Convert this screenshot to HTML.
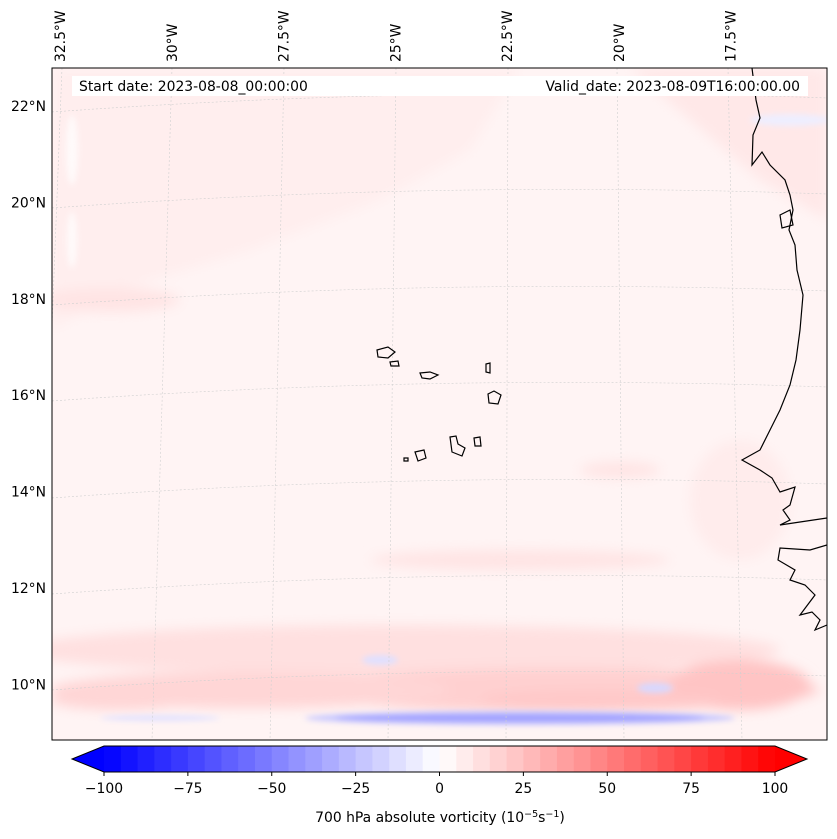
<!DOCTYPE html>
<html><head><meta charset="utf-8"><style>
html,body{margin:0;padding:0;background:#fff;}
svg{display:block;font-family:"DejaVu Sans","Liberation Sans",sans-serif;}
</style></head><body>
<svg id="fig" width="837" height="839" viewBox="0 0 837 839">
<defs>
<clipPath id="mapclip"><rect x="52" y="68" width="775" height="672"/></clipPath>
<filter id="blur6"><feGaussianBlur stdDeviation="6"/></filter>
<filter id="blur3"><feGaussianBlur stdDeviation="3"/></filter>
</defs>
<g id="map">
<rect x="52" y="68" width="775" height="672" fill="#fff4f4"/>
<g clip-path="url(#mapclip)">
<g filter="url(#blur6)" fill="#ffe4e4">
<path d="M52 68 L520 68 L470 150 L380 200 L250 250 L120 290 L52 330 Z" fill="#ffeeee"/>
<path d="M630 68 L827 68 L827 220 L760 180 Z" fill="#ffe8e8"/>
<ellipse cx="110" cy="300" rx="70" ry="12"/>
<ellipse cx="520" cy="560" rx="150" ry="10"/>
<ellipse cx="620" cy="470" rx="40" ry="8"/>
<ellipse cx="400" cy="650" rx="380" ry="25" fill="#ffe0e0"/>
<ellipse cx="560" cy="690" rx="260" ry="22" fill="#ffd0d0"/>
<ellipse cx="250" cy="690" rx="200" ry="18" fill="#ffd6d6"/>
<ellipse cx="740" cy="685" rx="70" ry="25" fill="#ffc4c4"/>
<ellipse cx="600" cy="700" rx="120" ry="10" fill="#ffc8c8"/>
<ellipse cx="120" cy="700" rx="70" ry="10" fill="#ffd6d6"/>
<ellipse cx="740" cy="500" rx="50" ry="60" fill="#ffecec"/>
</g>
<g filter="url(#blur3)">
<ellipse cx="72" cy="150" rx="6" ry="35" fill="#fffafa"/>
<ellipse cx="72" cy="240" rx="5" ry="28" fill="#fffafa"/>
<ellipse cx="520" cy="718" rx="215" ry="7" fill="#c8c8ff"/>
<ellipse cx="520" cy="718" rx="185" ry="4" fill="#a0a0ff"/>
<ellipse cx="160" cy="718" rx="60" ry="3" fill="#e2e2ff"/>
<ellipse cx="380" cy="660" rx="18" ry="5" fill="#e0e0ff"/>
<ellipse cx="655" cy="688" rx="18" ry="5" fill="#d8d8ff"/>
<ellipse cx="790" cy="120" rx="40" ry="6" fill="#eeeeff"/>
</g>
</g>
<g fill="none" stroke="#d0d0d0" stroke-width="0.6" stroke-dasharray="2,2" clip-path="url(#mapclip)">
<path d="M52 112 Q440 84 827 98"/><path d="M52 208 Q440 180 827 194"/><path d="M52 305 Q440 277 827 291"/>
<path d="M52 401 Q440 373 827 387"/><path d="M52 498 Q440 470 827 484"/><path d="M52 594 Q440 566 827 580"/>
<path d="M52 690 Q440 662 827 676"/>
<path d="M62 68 L36 740"/><path d="M172 68 L152 740"/><path d="M284 68 L270 740"/><path d="M396 68 L388 740"/>
<path d="M508 68 L506 740"/><path d="M617 68 L624 740"/><path d="M728 68 L742 740"/>
</g>
<g fill="none" stroke="#000" stroke-width="1.2" clip-path="url(#mapclip)">
<path d="M752 68 L756 100 L760 118 L753 135 L752 165 L762 152 L770 165 L785 180 L790 195 L793 210 L789 230 L795 245 L797 270 L803 295 L800 330 L796 360 L790 385 L780 410 L770 430 L760 450 L742 460 L760 470 L772 478 L780 492 L795 487 L790 505 L783 510 L790 520 L780 525 L800 522 L827 518"/>
<path d="M827 545 L810 550 L780 548 L778 560 L795 570 L790 580 L805 585 L815 595 L800 615 L812 612 L820 620 L815 630 L827 625"/>
<path d="M780 215 L790 210 L793 225 L782 228 Z"/>
<path d="M377 350 L388 347 L395 352 L388 358 L378 357 Z"/>
<path d="M390 362 L398 361 L399 366 L391 366 Z"/>
<path d="M420 373 L430 372 L438 375 L430 379 L422 378 Z"/>
<path d="M486 364 L490 363 L490 373 L486 372 Z"/>
<path d="M488 394 L494 391 L501 395 L498 404 L489 403 Z"/>
<path d="M450 437 L456 436 L458 444 L465 448 L462 456 L452 452 Z"/>
<path d="M474 438 L480 437 L481 446 L475 446 Z"/>
<path d="M415 452 L424 450 L426 458 L418 461 Z"/>
<path d="M404 458 L408 458 L408 461 L404 461 Z"/>
</g>
<rect x="52" y="68" width="775" height="672" fill="none" stroke="#000" stroke-width="1"/>
</g>
<rect x="72" y="76" width="736" height="20" fill="#fff"/>
<text x="79" y="91" font-size="13.9">Start date: 2023-08-08_00:00:00</text>
<text x="800" y="91" font-size="13.9" text-anchor="end">Valid_date: 2023-08-09T16:00:00.00</text>
<g id="latlabels" font-size="13.9" text-anchor="end"></g>
<g id="lonlabels" font-size="13.9"></g>
<g id="cbar"></g>
<text x="440" y="822" font-size="13.9" text-anchor="middle">700 hPa absolute vorticity (10<tspan baseline-shift="super" font-size="9.5">−5</tspan>s<tspan baseline-shift="super" font-size="9.5">−1</tspan>)</text>
</svg>
<script>
const latLabels = ["22°N","20°N","18°N","16°N","14°N","12°N","10°N"];
const latValues = [22,20,18,16,14,12,10];
const lonLabels = ["32.5°W","30°W","27.5°W","25°W","22.5°W","20°W","17.5°W"];
const lonValues = [-32.5,-30,-27.5,-25,-22.5,-20,-17.5];
const cbarLevels = [];
for (let v = -100; v < 100; v += 5) cbarLevels.push(v);
const cbarTicks = [-100,-75,-50,-25,0,25,50,75,100];
const cbarTickLabels = ["−100","−75","−50","−25","0","25","50","75","100"];
const NS = "http://www.w3.org/2000/svg";
function latY(lat){ return 106 + (22 - lat) * 48.2; }
function lonX(lon){ return 60 + (lon + 32.5) * 44.7; }
function cbX(v){ return 104 + (v + 100) / 200 * 671; }
function bwr(v){
  const t = (v + 100) / 200;
  let r,g,b;
  if (t < 0.5){ r = g = Math.round(t*2*255); b = 255; }
  else { r = 255; g = b = Math.round((1-t)*2*255); }
  return `rgb(${r},${g},${b})`;
}
const latG = document.getElementById('latlabels');
latValues.forEach((lat,i)=>{
  const t = document.createElementNS(NS,'text');
  t.setAttribute('x', 46); t.setAttribute('y', latY(lat)+5);
  t.textContent = latLabels[i];
  
  
  latG.appendChild(t);
});
const lonG = document.getElementById('lonlabels');
lonValues.forEach((lon,i)=>{
  const t = document.createElementNS(NS,'text');
  const x = lonX(lon) + 5;
  t.setAttribute('transform', `translate(${x},62) rotate(-90)`);
  t.textContent = lonLabels[i];
  
  
  lonG.appendChild(t);
});
const cb = document.getElementById('cbar');
cbarLevels.forEach(v=>{
  const r = document.createElementNS(NS,'rect');
  const x0 = cbX(v), x1 = cbX(v+5);
  r.setAttribute('x', x0); r.setAttribute('y', 746);
  r.setAttribute('width', x1-x0+0.5); r.setAttribute('height', 26);
  r.setAttribute('fill', bwr(v+2.5));
  
  
  cb.appendChild(r);
});
const lt = document.createElementNS(NS,'polygon');
lt.setAttribute('points', `${cbX(-100)},746 72,759 ${cbX(-100)},772`);
lt.setAttribute('fill', bwr(-105));


cb.appendChild(lt);
const rt = document.createElementNS(NS,'polygon');
rt.setAttribute('points', `${cbX(100)},746 807,759 ${cbX(100)},772`);
rt.setAttribute('fill', bwr(105));


cb.appendChild(rt);
const outline = document.createElementNS(NS,'polygon');
outline.setAttribute('points', `${cbX(-100)},746 ${cbX(100)},746 807,759 ${cbX(100)},772 ${cbX(-100)},772 72,759`);
outline.setAttribute('fill', 'none'); outline.setAttribute('stroke', '#000'); outline.setAttribute('stroke-width', '1');


cb.appendChild(outline);
cbarTicks.forEach((v,i)=>{
  const l = document.createElementNS(NS,'line');
  l.setAttribute('x1', cbX(v)); l.setAttribute('x2', cbX(v));
  l.setAttribute('y1', 772); l.setAttribute('y2', 776);
  l.setAttribute('stroke', '#000');
  
  
  cb.appendChild(l);
  const t = document.createElementNS(NS,'text');
  t.setAttribute('x', cbX(v)); t.setAttribute('y', 793);
  t.setAttribute('font-size', '13.9'); t.setAttribute('text-anchor', 'middle');
  t.textContent = cbarTickLabels[i];
  
  
  cb.appendChild(t);
});
</script>
</body></html>
